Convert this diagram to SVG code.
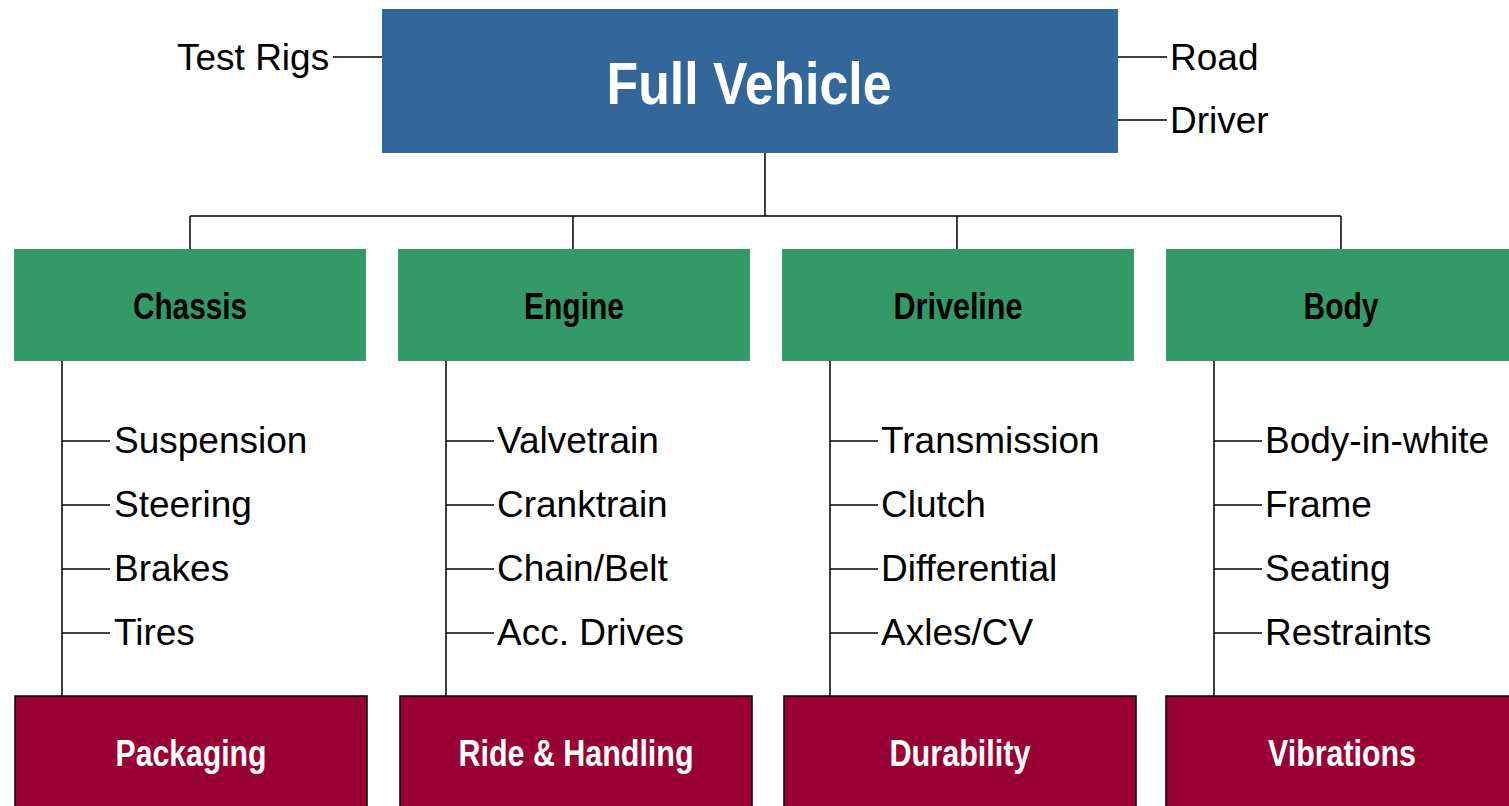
<svg xmlns="http://www.w3.org/2000/svg" width="1509" height="806" viewBox="0 0 1509 806">
<style>
.bg{fill:#ffffff}
.top{fill:#336699}
.cat{fill:#339966}
.att{fill:#990033;stroke:#000000;stroke-width:1.5}
.ln{stroke:#000000;stroke-width:1.5;fill:none}
.t{font-family:"Liberation Sans",Arial,sans-serif;font-size:37px;fill:#000000}
.tt{font-family:"Liberation Sans",Arial,sans-serif;font-weight:bold;font-size:60px;fill:#ffffff;text-anchor:middle}
.ct{font-family:"Liberation Sans",Arial,sans-serif;font-weight:bold;font-size:36px;fill:#000000;text-anchor:middle}
.at{font-family:"Liberation Sans",Arial,sans-serif;font-weight:bold;font-size:36px;fill:#ffffff;text-anchor:middle}
</style>
<rect class="bg" x="0" y="0" width="1509" height="806"/>
<g id="connectors">
<path class="ln" d="M333 57H382M1118 57H1167M1118 120H1167"/>
<path class="ln" d="M765 153V216M190 216H1341M190 216V249M573 216V249M957 216V249M1341 216V249"/>
<path class="ln" d="M62 361V696M62 441H110M62 505H110M62 569H110M62 633H110"/>
<path class="ln" d="M446 361V696M446 441H494M446 505H494M446 569H494M446 633H494"/>
<path class="ln" d="M830 361V696M830 441H878M830 505H878M830 569H878M830 633H878"/>
<path class="ln" d="M1214 361V696M1214 441H1262M1214 505H1262M1214 569H1262M1214 633H1262"/>
</g>
<g id="full-vehicle">
<rect class="top" x="382" y="9" width="736" height="144"/>
<text class="tt" x="749" y="104" textLength="285" lengthAdjust="spacingAndGlyphs">Full Vehicle</text>
</g>
<g id="test-rigs"><text class="t" x="177" y="70">Test Rigs</text></g>
<g id="road"><text class="t" x="1170" y="70">Road</text></g>
<g id="driver"><text class="t" x="1170" y="133">Driver</text></g>
<g id="chassis">
<rect class="cat" x="14" y="249" width="352" height="112"/>
<text class="ct" x="190" y="319" textLength="114" lengthAdjust="spacingAndGlyphs">Chassis</text>
</g>
<g id="engine">
<rect class="cat" x="398" y="249" width="352" height="112"/>
<text class="ct" x="574" y="319" textLength="100" lengthAdjust="spacingAndGlyphs">Engine</text>
</g>
<g id="driveline">
<rect class="cat" x="782" y="249" width="352" height="112"/>
<text class="ct" x="958" y="319" textLength="129" lengthAdjust="spacingAndGlyphs">Driveline</text>
</g>
<g id="body">
<rect class="cat" x="1166" y="249" width="352" height="112"/>
<text class="ct" x="1341" y="319" textLength="75" lengthAdjust="spacingAndGlyphs">Body</text>
</g>
<g id="chassis-items">
<text class="t" x="114" y="453">Suspension</text>
<text class="t" x="114" y="517">Steering</text>
<text class="t" x="114" y="581">Brakes</text>
<text class="t" x="114" y="645">Tires</text>
</g>
<g id="engine-items">
<text class="t" x="497" y="453">Valvetrain</text>
<text class="t" x="497" y="517">Cranktrain</text>
<text class="t" x="497" y="581">Chain/Belt</text>
<text class="t" x="497" y="645">Acc. Drives</text>
</g>
<g id="driveline-items">
<text class="t" x="881" y="453">Transmission</text>
<text class="t" x="881" y="517">Clutch</text>
<text class="t" x="881" y="581">Differential</text>
<text class="t" x="881" y="645">Axles/CV</text>
</g>
<g id="body-items">
<text class="t" x="1265" y="453">Body-in-white</text>
<text class="t" x="1265" y="517">Frame</text>
<text class="t" x="1265" y="581">Seating</text>
<text class="t" x="1265" y="645">Restraints</text>
</g>
<g id="packaging">
<rect class="att" x="15" y="696" width="352" height="130"/>
<text class="at" x="191" y="766" textLength="151" lengthAdjust="spacingAndGlyphs">Packaging</text>
</g>
<g id="ride-handling">
<rect class="att" x="400" y="696" width="352" height="130"/>
<text class="at" x="576" y="766" textLength="235" lengthAdjust="spacingAndGlyphs">Ride &amp; Handling</text>
</g>
<g id="durability">
<rect class="att" x="784" y="696" width="352" height="130"/>
<text class="at" x="960" y="766" textLength="141" lengthAdjust="spacingAndGlyphs">Durability</text>
</g>
<g id="vibrations">
<rect class="att" x="1166" y="696" width="352" height="130"/>
<text class="at" x="1342" y="766" textLength="148" lengthAdjust="spacingAndGlyphs">Vibrations</text>
</g>
</svg>
